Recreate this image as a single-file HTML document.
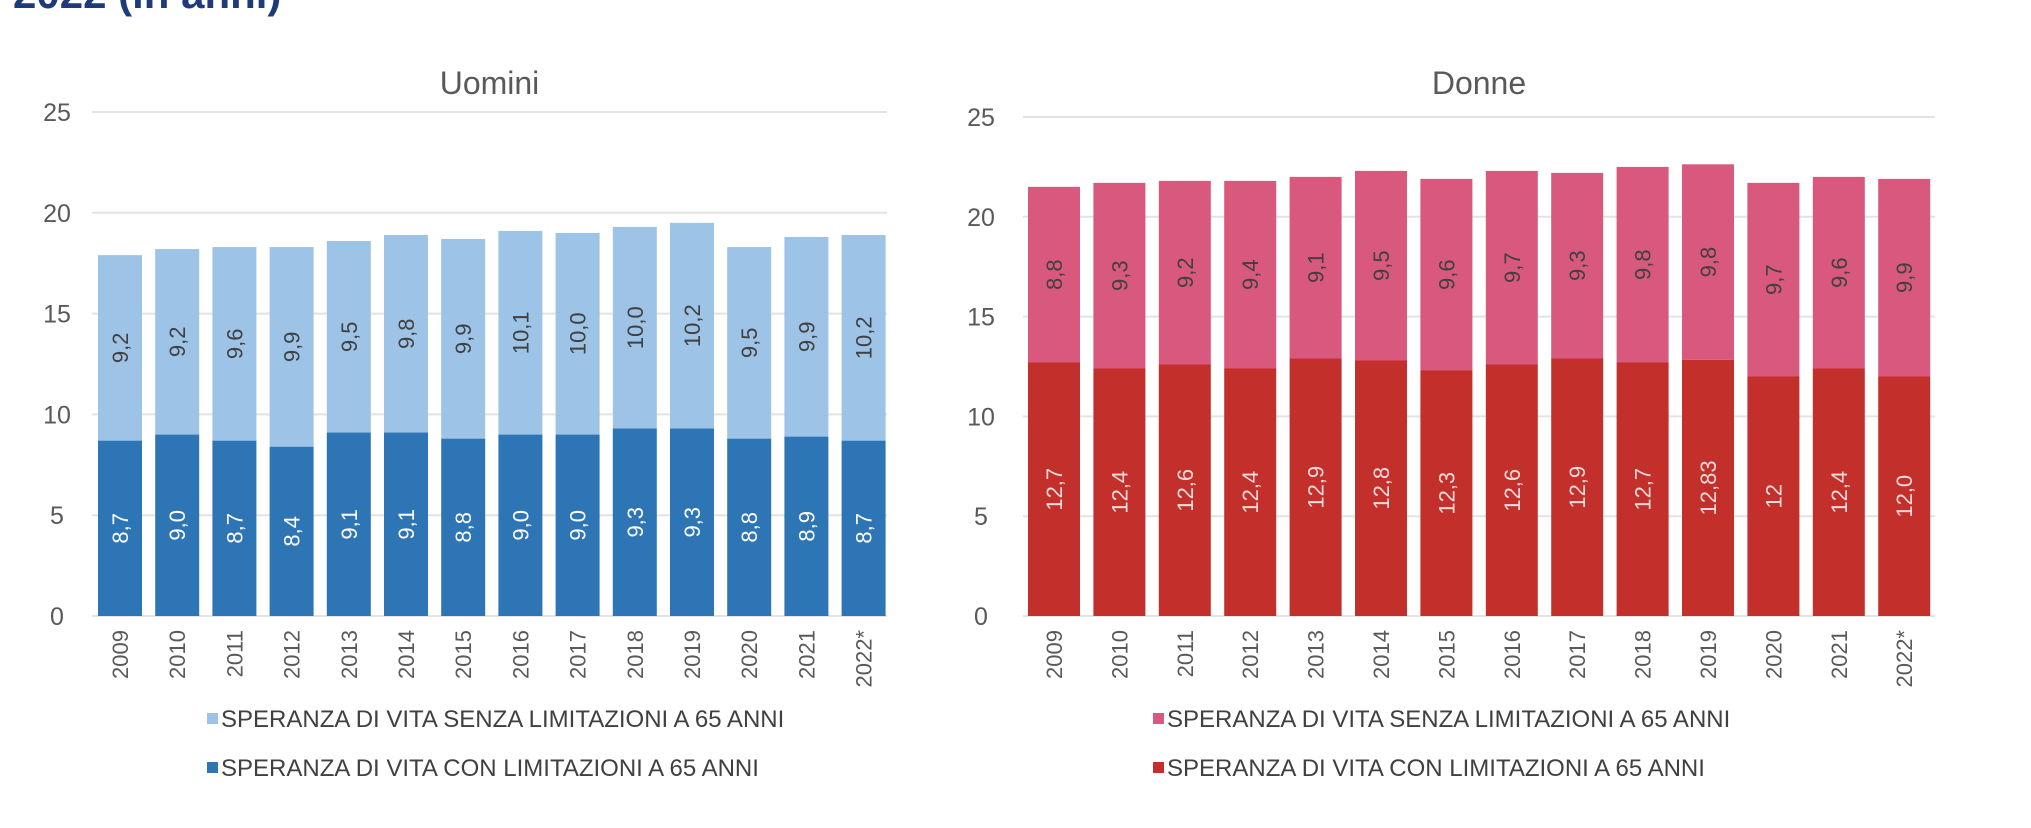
<!DOCTYPE html>
<html><head><meta charset="utf-8"><style>
html,body{margin:0;padding:0;background:#fff;}
body{width:2031px;height:828px;overflow:hidden;position:relative;font-family:"Liberation Sans",sans-serif;}
#title{position:absolute;left:13px;top:-30px;font-size:42px;font-weight:bold;color:#1f3a7a;white-space:nowrap;}
</style></head><body>
<div id="title">2022 (in anni)</div>
<svg id="svg" width="2031" height="828" xmlns="http://www.w3.org/2000/svg" style="position:absolute;left:0;top:0"></svg>
<script>
const years=["2009","2010","2011","2012","2013","2014","2015","2016","2017","2018","2019","2020","2021","2022*"];
const menWith=[8.7,9.0,8.7,8.4,9.1,9.1,8.8,9.0,9.0,9.3,9.3,8.8,8.9,8.7];
const menWithout=[9.2,9.2,9.6,9.9,9.5,9.8,9.9,10.1,10.0,10.0,10.2,9.5,9.9,10.2];
const menWithLbl=["8,7","9,0","8,7","8,4","9,1","9,1","8,8","9,0","9,0","9,3","9,3","8,8","8,9","8,7"];
const menWithoutLbl=["9,2","9,2","9,6","9,9","9,5","9,8","9,9","10,1","10,0","10,0","10,2","9,5","9,9","10,2"];
const womWith=[12.7,12.4,12.6,12.4,12.9,12.8,12.3,12.6,12.9,12.7,12.83,12.0,12.4,12.0];
const womWithout=[8.8,9.3,9.2,9.4,9.1,9.5,9.6,9.7,9.3,9.8,9.8,9.7,9.6,9.9];
const womWithLbl=["12,7","12,4","12,6","12,4","12,9","12,8","12,3","12,6","12,9","12,7","12,83","12","12,4","12,0"];
const womWithoutLbl=["8,8","9,3","9,2","9,4","9,1","9,5","9,6","9,7","9,3","9,8","9,8","9,7","9,6","9,9"];
const yTicks=[0,5,10,15,20,25];
const svg=document.getElementById('svg');
const NS='http://www.w3.org/2000/svg';
function mk(tag,attrs,parent){const e=document.createElementNS(NS,tag);for(const k in attrs)e.setAttribute(k,attrs[k]);(parent||svg).appendChild(e);return e;}
function chart(cfg){
  const g=mk('g',{});
  
  
  const y=v=>cfg.y0-(cfg.y0-cfg.y25)*v/25;
  const t=mk('text',{x:(cfg.gx0+cfg.gx1)/2,y:cfg.titleY,'font-size':32,fill:'#595959','text-anchor':'middle'},g);
  t.textContent=cfg.title;
  
  
  yTicks.forEach(v=>{
    const l=mk('line',{x1:cfg.gx0,x2:cfg.gx1,y1:y(v),y2:y(v),stroke:'#e3e3e3','stroke-width':2},g);
    
    
    const tx=mk('text',{x:cfg.lx,y:y(v)+9,'font-size':25,fill:'#595959','text-anchor':'middle'},g);
    tx.textContent=v;
    
    
  });
  const x=i=>cfg.bx0+i*cfg.pitch;
  years.forEach((yr,i)=>{
    const a=cfg.lower[i],b=cfg.upper[i];
    const r1=mk('rect',{x:x(i),y:y(a),width:cfg.bw,height:y(0)-y(a),fill:cfg.c1},g);
    
    
    const r2=mk('rect',{x:x(i),y:y(a+b),width:cfg.bw,height:y(a)-y(a+b),fill:cfg.c2},g);
    
    
    const cx=x(i)+cfg.bw/2;
    const l1=mk('text',{x:0,y:0,'font-size':22,fill:cfg.lc1,'text-anchor':'middle',transform:`translate(${cx+8},${y(a/2)}) rotate(-90)`},g);
    l1.textContent=cfg.lowerLbl[i];
    
    
    const l2=mk('text',{x:0,y:0,'font-size':22,fill:'#404040','text-anchor':'middle',transform:`translate(${cx+8},${y(a+b/2)}) rotate(-90)`},g);
    l2.textContent=cfg.upperLbl[i];
    
    
    const yl=mk('text',{x:0,y:0,'font-size':22,fill:'#595959','text-anchor':'end',transform:`translate(${cx+8},${cfg.y0+14}) rotate(-90)`},g);
    yl.textContent=yr;
    
    
  });
  const lg=[[cfg.c2,'SPERANZA DI VITA SENZA LIMITAZIONI A 65 ANNI',719],[cfg.c1,'SPERANZA DI VITA CON LIMITAZIONI A 65 ANNI',768]];
  lg.forEach(([c,s,ly])=>{
    const e=mk('g',{},g);
    
    
    mk('rect',{x:cfg.legX-14,y:ly-6,width:11,height:11,fill:c},e);
    const tt=mk('text',{x:cfg.legX,y:ly+8,'font-size':24,fill:'#404040'},e);
    tt.textContent=s;
  });
}
chart({name:'men-chart',title:'Uomini',titleY:94,gx0:92,gx1:887,y0:616,y25:112,lx:57,bx0:98,pitch:57.2,bw:44,
  lower:menWith,upper:menWithout,lowerLbl:menWithLbl,upperLbl:menWithoutLbl,c1:'#2e75b6',c2:'#9dc3e6',lc1:'#ffffff',legX:221});
chart({name:'women-chart',title:'Donne',titleY:94,gx0:1023,gx1:1935,y0:616,y25:117,lx:981,bx0:1028,pitch:65.4,bw:52,
  lower:womWith,upper:womWithout,lowerLbl:womWithLbl,upperLbl:womWithoutLbl,c1:'#c3302b',c2:'#d9587e',lc1:'#f4dada',legX:1167});
</script>
</body></html>
